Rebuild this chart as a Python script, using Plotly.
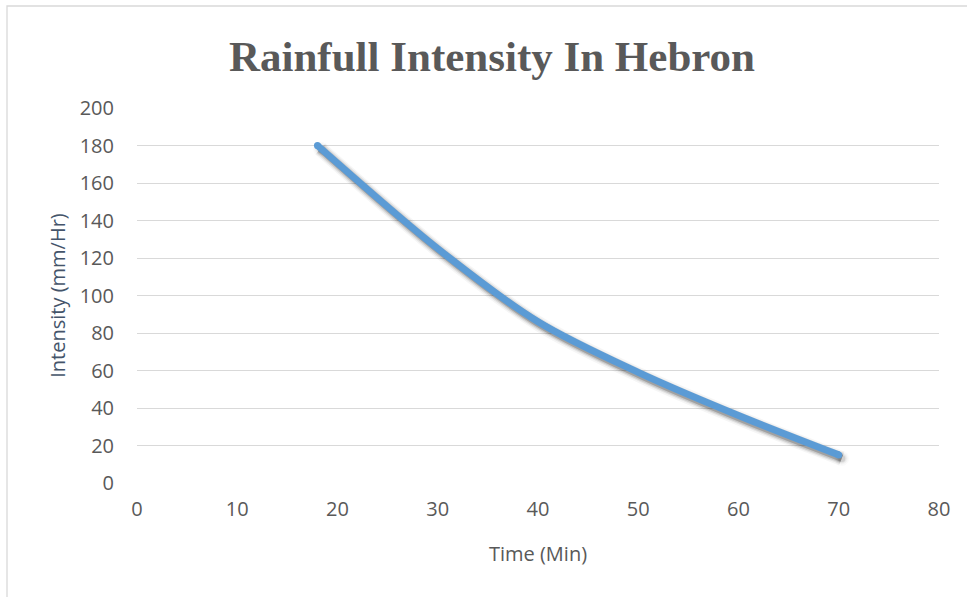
import plotly.graph_objects as go

# Rainfall intensity-duration data for Hebron
time_min = [18, 30, 40, 50, 60, 70]
intensity = [180, 125, 86, 59, 36, 15]

x_ticks = [0, 10, 20, 30, 40, 50, 60, 70, 80]
y_ticks = [0, 20, 40, 60, 80, 100, 120, 140, 160, 180, 200]

W, H = 967, 597
ML, MR, MT, MB = 137, 28, 108, 114
plot_w = W - ML - MR
plot_h = H - MT - MB

X_RANGE = [0, 80]
Y_RANGE = [0, 200]

# soft drop shadow: same data on overlay axes shifted a few pixels right/down
sx = 3 * (X_RANGE[1] - X_RANGE[0]) / plot_w
sy = 3.5 * (Y_RANGE[1] - Y_RANGE[0]) / plot_h

LINE_W = 7
tick_font = dict(family="Open Sans", size=20, color="#595959")
line_style = dict(color="#5B9BD5", width=LINE_W, shape="spline", smoothing=0.9)

# series end points, used for rounded line caps
end_x = [time_min[0], time_min[-1]]
end_y = [intensity[0], intensity[-1]]

fig = go.Figure()

# base subplot trace (keeps the x/y subplot alive; hidden)
fig.add_trace(go.Scatter(
    x=time_min, y=intensity, mode="lines", line=line_style,
    opacity=0, hoverinfo="skip", showlegend=False,
))

for width, alpha in [(15, 0.04), (12, 0.07), (9.5, 0.11), (7, 0.2)]:
    fig.add_trace(go.Scatter(
        x=time_min, y=intensity, mode="lines",
        line=dict(color=f"rgba(0,0,0,{alpha})", width=width, shape="spline", smoothing=0.9),
        xaxis="x2", yaxis="y2", hoverinfo="skip", showlegend=False,
    ))
    fig.add_trace(go.Scatter(
        x=end_x, y=end_y, mode="markers",
        marker=dict(color=f"rgba(0,0,0,{alpha * 0.45})", size=width, line=dict(width=0)),
        xaxis="x2", yaxis="y2", hoverinfo="skip", showlegend=False,
    ))

# main series drawn on the top-most overlay so it sits above its shadow
fig.add_trace(go.Scatter(
    x=time_min, y=intensity, mode="lines", line=line_style,
    xaxis="x3", yaxis="y3", showlegend=False,
))
fig.add_trace(go.Scatter(
    x=end_x, y=end_y, mode="markers",
    marker=dict(color="#5B9BD5", size=LINE_W, line=dict(width=0)),
    xaxis="x3", yaxis="y3", hoverinfo="skip", showlegend=False,
))

fig.update_layout(
    width=W, height=H,
    margin=dict(l=ML, r=MR, t=MT, b=MB),
    paper_bgcolor="white", plot_bgcolor="white",
    title=dict(
        text="<b>Rainfull Intensity In Hebron</b>",
        x=492 / W, xref="container", xanchor="center",
        y=1 - 56 / H, yref="container", yanchor="middle",
        font=dict(family="Liberation Serif", size=43, color="#595959"),
    ),
    xaxis=dict(
        range=X_RANGE, tickvals=x_ticks, showgrid=False, zeroline=False,
        showline=False, ticks="", ticklabelstandoff=12,
        tickfont=tick_font,
        title=dict(text="Time (Min)", standoff=25,
                   font=dict(family="Open Sans", size=20, color="#595959")),
        fixedrange=True,
    ),
    yaxis=dict(
        range=Y_RANGE, tickvals=y_ticks, showgrid=True, gridcolor="#D9D9D9",
        gridwidth=1.3, zeroline=False, showline=False, ticks="",
        ticklabelstandoff=22,
        tickfont=tick_font,
        title=dict(text="Intensity (mm/Hr)", standoff=8,
                   font=dict(family="Open Sans", size=20, color="#44546A")),
        fixedrange=True,
    ),
    xaxis2=dict(range=[X_RANGE[0] - sx, X_RANGE[1] - sx], overlaying="x",
                visible=False, fixedrange=True),
    yaxis2=dict(range=[Y_RANGE[0] + sy, Y_RANGE[1] + sy], overlaying="y",
                visible=False, fixedrange=True),
    xaxis3=dict(range=X_RANGE, overlaying="x", visible=False, fixedrange=True),
    yaxis3=dict(range=Y_RANGE, overlaying="y", visible=False, fixedrange=True),
    shapes=[
        # chart area frame
        dict(type="rect", xref="paper", yref="paper",
             x0=(7 - ML) / plot_w, x1=1.2,
             y0=-0.5, y1=(H - MB - 6) / plot_h,
             line=dict(color="#D9D9D9", width=1.3), fillcolor="rgba(0,0,0,0)",
             layer="below"),
    ],
)

fig.write_html("out.html")
